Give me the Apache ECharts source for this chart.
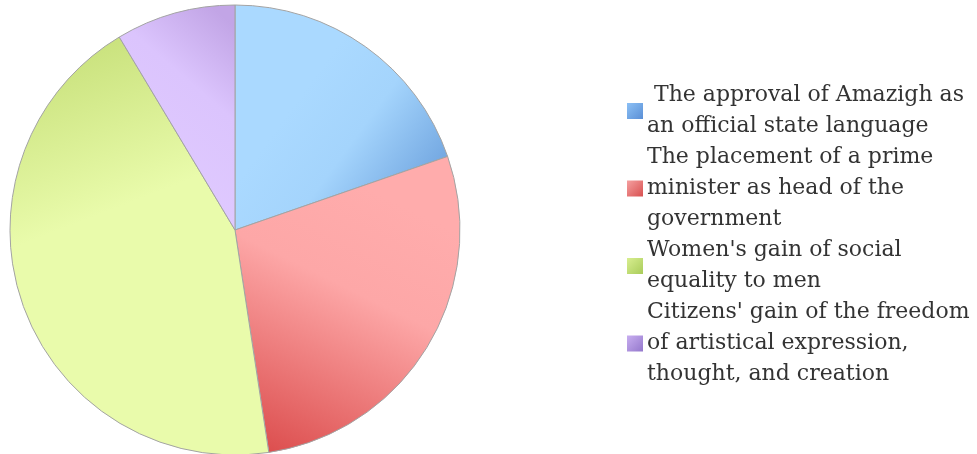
<!DOCTYPE html>
<html>
<head>
<meta charset="utf-8">
<script src="https://cdn.jsdelivr.net/npm/echarts@6/dist/echarts.min.js"></script>
<style>html,body{margin:0;padding:0;background:#fff;}#c{width:977px;height:454px;}</style>
</head>
<body>
<div id="c"></div>
<script>
const categories = [
  " The approval of Amazigh as\nan official state language",
  "The placement of a prime\nminister as head of the\ngovernment",
  "Women's gain of social\nequality to men",
  "Citizens' gain of the freedom\nof artistical expression,\nthought, and creation"
];
const values = [19.7, 27.9, 43.8, 8.6];

function lg(x, y, x2, y2, stops) {
  return new echarts.graphic.LinearGradient(x, y, x2, y2, stops.map(s => ({offset: s[0], color: s[1]})));
}
const fills = [
  lg(0.35, 0.35, 1, 0.8, [[0, '#aad9ff'], [0.4, '#a4d4fc'], [1, '#6a9fdc']]),
  lg(0.7, 0.15, 0.15, 1, [[0, '#ffacac'], [0.35, '#fda7a7'], [1, '#dc4e4e']]),
  lg(0.2, 0, 0.45, 0.4, [[0, '#c6df78'], [1, '#e9fbab']]),
  lg(0, 0.7, 1, 0.1, [[0, '#e0caff'], [0.6, '#dbc4fd'], [1, '#c2a5e6']])
];
const icons = [
  lg(0, 0, 1, 1, [[0, '#8cc0f5'], [1, '#5a8fd6']]),
  lg(0, 0, 1, 1, [[0, '#f5a0a0'], [1, '#d85050']]),
  lg(0, 0, 1, 1, [[0, '#d8ee90'], [1, '#a9cc5a']]),
  lg(0, 0, 1, 1, [[0, '#c8aef0'], [1, '#9478cc']])
];

const chart = echarts.init(document.getElementById('c'), null, {renderer: 'canvas'});
chart.setOption({
  animation: false,
  legend: {
    orient: 'vertical',
    left: 622,
    top: 75,
    itemGap: 0,
    itemWidth: 16,
    itemHeight: 16,
    icon: 'rect',
    selectedMode: false,
    textStyle: {
      fontFamily: 'DejaVu Serif',
      fontSize: 22,
      lineHeight: 31,
      color: '#333333',
      padding: [0, 0, 0, -1]
    },
    data: categories.map((n, i) => ({name: n, itemStyle: {color: icons[i], borderWidth: 0}}))
  },
  series: [{
    type: 'pie',
    center: [235, 230],
    radius: [0, 225],
    startAngle: 90,
    clockwise: true,
    label: {show: false},
    labelLine: {show: false},
    emphasis: {disabled: true},
    itemStyle: {borderColor: '#a3a3a3', borderWidth: 1},
    data: categories.map((n, i) => ({name: n, value: values[i], itemStyle: {color: fills[i]}}))
  }]
});
</script>
</body>
</html>
